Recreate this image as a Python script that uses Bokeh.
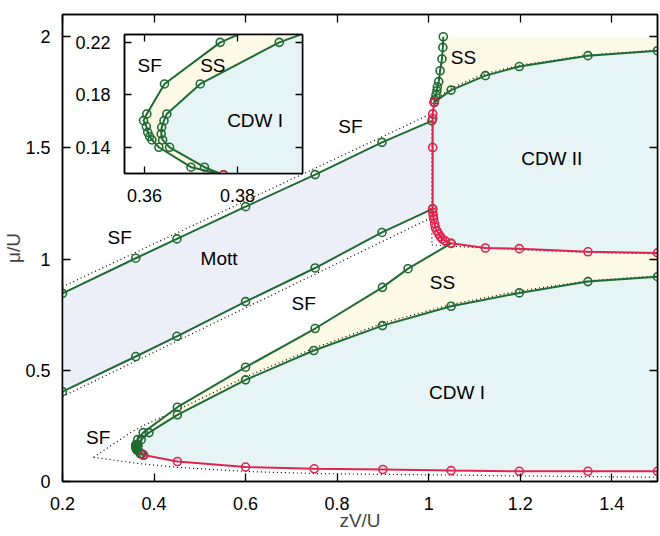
import numpy as np
from bokeh.plotting import figure
from bokeh.models import Range1d, LinearAxis, FixedTicker, GridBox
from bokeh.embed import file_html
from bokeh.resources import INLINE
from bokeh.core.properties import value

FONT = "Liberation Sans"

# ---------------- data (zV/U , mu/U) ----------------
# Mott lobe boundaries (green)
mott_up_x = [0.2, 0.36, 0.45, 0.6, 0.752, 0.898, 1.007]
mott_up_y = [0.846, 1.004, 1.091, 1.236, 1.380, 1.525, 1.622]
mott_lo_x = [0.2, 0.36, 0.45, 0.6, 0.752, 0.898, 1.0086]
mott_lo_y = [0.404, 0.562, 0.653, 0.809, 0.960, 1.120, 1.226]

# CDW II left / lower boundary (red)
red2_x = [1.012, 1.0088, 1.0088, 1.0088, 1.0088, 1.009, 1.010, 1.011, 1.013, 1.0145,
          1.018, 1.022, 1.026, 1.030, 1.036, 1.049, 1.124, 1.198, 1.348, 1.5]
red2_y = [1.705, 1.653, 1.632, 1.502, 1.226, 1.210, 1.195, 1.181, 1.160, 1.143,
          1.127, 1.113, 1.100, 1.090, 1.082, 1.071, 1.050, 1.047, 1.033, 1.028]

# CDW II upper boundary (green)
cdw2_up_x = [1.012, 1.049, 1.124, 1.198, 1.348, 1.5]
cdw2_up_y = [1.705, 1.760, 1.825, 1.866, 1.915, 1.937]

# SS / SF boundary above CDW II (green)
ssv_x = [1.012, 1.013, 1.016, 1.018, 1.019, 1.022, 1.025, 1.029, 1.031, 1.032]
ssv_y = [1.705, 1.716, 1.738, 1.757, 1.775, 1.798, 1.847, 1.900, 1.952, 2.000]

# lower lobe: SF / SS boundary (green)
lobe_out_x = [0.377, 0.3700, 0.3631, 0.3616, 0.3611, 0.3607, 0.3604, 0.3598, 0.3605,
              0.3643, 0.3763, 0.451, 0.600, 0.752, 0.899, 0.955, 1.049]
lobe_out_y = [0.119, 0.1248, 0.1400, 0.1456, 0.1482, 0.1514, 0.1558, 0.1603, 0.1654,
              0.1883, 0.2200, 0.334, 0.514, 0.688, 0.873, 0.957, 1.071]

# lower lobe: SS / CDW I boundary (green)
lobe_in_x = [0.377, 0.3729, 0.3654, 0.3639, 0.3636, 0.3637, 0.3642, 0.3648, 0.3720,
             0.3890, 0.451, 0.600, 0.749, 0.899, 1.049, 1.198, 1.348, 1.5]
lobe_in_y = [0.119, 0.1248, 0.1400, 0.1456, 0.1502, 0.1552, 0.1603, 0.1654, 0.1883,
             0.2200, 0.300, 0.457, 0.589, 0.701, 0.788, 0.848, 0.899, 0.921]

# CDW I lower boundary (red)
red1_x = [0.377, 0.451, 0.600, 0.750, 0.900, 1.049, 1.198, 1.348, 1.5]
red1_y = [0.119, 0.090, 0.065, 0.057, 0.054, 0.049, 0.046, 0.046, 0.046]

# mean-field boundaries (dotted)
dmf_up_x = [0.2, 1.007]
dmf_up_y = [0.876, 1.655]
dmf_lo_x = [0.2, 1.007]
dmf_lo_y = [0.382, 1.187]
dmf_v_x = [1.007, 1.007]
dmf_v_y = [1.655, 1.064]
dmf_c2lo_x = [1.007, 1.05, 1.2, 1.35, 1.5]
dmf_c2lo_y = [1.064, 1.058, 1.042, 1.030, 1.024]
dmf_c2up_x = [1.02, 1.05, 1.12, 1.2, 1.35, 1.5]
dmf_c2up_y = [1.725, 1.770, 1.832, 1.872, 1.918, 1.940]
dmf_lobe_up_x = [0.268, 0.35, 0.38, 0.45, 0.6, 0.75, 0.9, 1.05, 1.2, 1.35, 1.5]
dmf_lobe_up_y = [0.109, 0.222, 0.255, 0.32, 0.47, 0.60, 0.712, 0.797, 0.857, 0.903, 0.925]
dmf_lobe_lo_x = [0.268, 0.37, 0.45, 0.6, 0.75, 0.9, 1.05, 1.2, 1.35, 1.5]
dmf_lobe_lo_y = [0.109, 0.080, 0.064, 0.045, 0.036, 0.032, 0.029, 0.025, 0.022, 0.019]

# phase labels
lab_text = ["SF", "SS", "CDW II", "SF", "Mott", "SF", "SS", "CDW I", "SF"]
lab_x = [0.829, 1.076, 1.269, 0.325, 0.542, 0.727, 1.030, 1.062, 0.278]
lab_y = [1.596, 1.906, 1.452, 1.097, 1.002, 0.801, 0.896, 0.401, 0.199]
ins_lab_text = ["SF", "SS", "CDW I"]
ins_lab_x = [0.3611, 0.3747, 0.3838]
ins_lab_y = [0.2022, 0.2022, 0.1603]

# ticks
x_ticks = [0.2, 0.4, 0.6, 0.8, 1.0, 1.2, 1.4]
x_tick_labels = ["0.2", "0.4", "0.6", "0.8", "1", "1.2", "1.4"]
y_ticks = [0.0, 0.5, 1.0, 1.5, 2.0]
y_tick_labels = ["0", "0.5", "1", "1.5", "2"]
ins_x_ticks = [0.36, 0.38]
ins_x_tick_labels = ["0.36", "0.38"]
ins_y_ticks = [0.14, 0.18, 0.22]
ins_y_tick_labels = ["0.14", "0.18", "0.22"]

# colours
GREEN = "#1f6b33"
RED = "#e0234f"
LAV = "#eceef8"
CYAN = "#e6f4f5"
YEL = "#fcf9e6"

# borders shared by both plots (GridBox aligns plot frames)
B_LEFT, B_RIGHT, B_TOP, B_BOTTOM = 62, 3, 14, 55


def style_axis(ax, ticks, labels, size, show_labels=True):
    ax.ticker = FixedTicker(ticks=ticks)
    ax.major_label_overrides = dict(zip(ticks, labels))
    ax.major_tick_in = 8
    ax.major_tick_out = 0
    ax.minor_tick_in = 0
    ax.minor_tick_out = 0
    ax.axis_line_width = 1.5
    ax.axis_line_color = "black"
    ax.major_tick_line_width = 1.3
    ax.major_label_text_font = FONT
    ax.major_label_text_color = "black"
    if show_labels:
        ax.major_label_text_font_size = size
    else:
        ax.major_label_text_font_size = "0px"
        ax.major_label_standoff = 0


def draw_all(f, msize):
    # fills
    f.patch(mott_up_x + mott_lo_x[::-1], mott_up_y + mott_lo_y[::-1],
            fill_color=LAV, line_color=None)
    f.patch(red2_x + cdw2_up_x[::-1], red2_y + cdw2_up_y[::-1],
            fill_color=CYAN, line_color=None)
    f.patch(ssv_x + [cdw2_up_x[-1]] + cdw2_up_x[::-1],
            ssv_y + [ssv_y[-1]] + cdw2_up_y[::-1],
            fill_color=YEL, line_color=None)
    f.patch(lobe_out_x + red2_x[15:] + lobe_in_x[::-1],
            lobe_out_y + red2_y[15:] + lobe_in_y[::-1],
            fill_color=YEL, line_color=None)
    f.patch(lobe_in_x + red1_x[::-1], lobe_in_y + red1_y[::-1],
            fill_color=CYAN, line_color=None)
    # dotted mean-field lines
    for xs, ys in [(dmf_up_x, dmf_up_y), (dmf_lo_x, dmf_lo_y), (dmf_v_x, dmf_v_y),
                   (dmf_c2lo_x, dmf_c2lo_y), (dmf_c2up_x, dmf_c2up_y),
                   (dmf_lobe_up_x, dmf_lobe_up_y), (dmf_lobe_lo_x, dmf_lobe_lo_y)]:
        f.line(xs, ys, line_color="black", line_width=1.2, line_dash="1 3")
    # green boundaries
    for xs, ys in [(mott_up_x, mott_up_y), (mott_lo_x, mott_lo_y),
                   (cdw2_up_x, cdw2_up_y), (ssv_x, ssv_y),
                   (lobe_out_x, lobe_out_y), (lobe_in_x, lobe_in_y)]:
        f.line(xs, ys, line_color=GREEN, line_width=2)
        f.scatter(xs, ys, marker="circle", size=msize, fill_color=None,
                  line_color=GREEN, line_width=1.6)
    # red boundaries
    for xs, ys in [(red2_x, red2_y), (red1_x, red1_y)]:
        f.line(xs, ys, line_color=RED, line_width=2)
        f.scatter(xs, ys, marker="circle", size=msize, fill_color=None,
                  line_color=RED, line_width=1.6)


# ---------------- main figure ----------------
p = figure(width=660, height=536, output_backend="svg", toolbar_location=None,
           x_range=Range1d(0.2, 1.5), y_range=Range1d(0.0, 2.1),
           min_border_left=B_LEFT, min_border_right=B_RIGHT, min_border_top=B_TOP,
           min_border_bottom=B_BOTTOM, x_axis_type=None, y_axis_type=None)
p.grid.visible = False
p.outline_line_color = "black"
p.outline_line_width = 1.5
p.background_fill_color = "white"

xb = LinearAxis()
style_axis(xb, x_ticks, x_tick_labels, "18px")
xb.major_label_standoff = 15
xb.axis_label = "zV/U"
xb.axis_label_text_font = FONT
xb.axis_label_text_font_style = "normal"
xb.axis_label_text_font_size = "19px"
xb.axis_label_standoff = -3
p.add_layout(xb, "below")

yl = LinearAxis()
style_axis(yl, y_ticks, y_tick_labels, "18px")
yl.major_label_standoff = 12
yl.axis_label = "μ/U"
yl.axis_label_text_font = FONT
yl.axis_label_text_font_style = "normal"
yl.axis_label_text_font_size = "19px"
yl.axis_label_standoff = -2
p.add_layout(yl, "left")

xt = LinearAxis()
style_axis(xt, x_ticks, x_tick_labels, "18px", show_labels=False)
p.add_layout(xt, "above")
yr = LinearAxis()
style_axis(yr, y_ticks, y_tick_labels, "18px", show_labels=False)
p.add_layout(yr, "right")

draw_all(p, 8)
p.text(lab_x, lab_y, text=lab_text, text_font=value(FONT), text_font_size="19px",
       text_align="center", text_baseline="middle", text_color="black")

# ---------------- inset ----------------
ins = figure(frame_width=178, frame_height=139, output_backend="svg",
             toolbar_location=None,
             x_range=Range1d(0.3557, 0.394), y_range=Range1d(0.12, 0.226),
             min_border_left=B_LEFT, min_border_right=B_RIGHT, min_border_top=B_TOP,
             min_border_bottom=B_BOTTOM, x_axis_type=None, y_axis_type=None,
             margin=(34 - B_TOP, 0, 0, 124 - B_LEFT))
ins.grid.visible = False
ins.outline_line_color = "black"
ins.outline_line_width = 1.5
ins.background_fill_color = "white"
ins.border_fill_color = None

ixb = LinearAxis()
style_axis(ixb, ins_x_ticks, ins_x_tick_labels, "18px")
ixb.major_label_standoff = 15
ins.add_layout(ixb, "below")
iyl = LinearAxis()
style_axis(iyl, ins_y_ticks, ins_y_tick_labels, "18px")
iyl.major_label_standoff = 14
ins.add_layout(iyl, "left")
ixt = LinearAxis()
style_axis(ixt, ins_x_ticks, ins_x_tick_labels, "18px", show_labels=False)
ins.add_layout(ixt, "above")
iyr = LinearAxis()
style_axis(iyr, ins_y_ticks, ins_y_tick_labels, "18px", show_labels=False)
ins.add_layout(iyr, "right")
for ax in (ixb, iyl, ixt, iyr):
    ax.major_tick_in = 7

draw_all(ins, 8)
ins.text(ins_lab_x, ins_lab_y, text=ins_lab_text, text_font=value(FONT),
         text_font_size="19px", text_align="center", text_baseline="middle",
         text_color="black")

layout = GridBox(children=[(p, 0, 0), (ins, 0, 0)])

open("out.html", "w").write(file_html(layout, INLINE))
